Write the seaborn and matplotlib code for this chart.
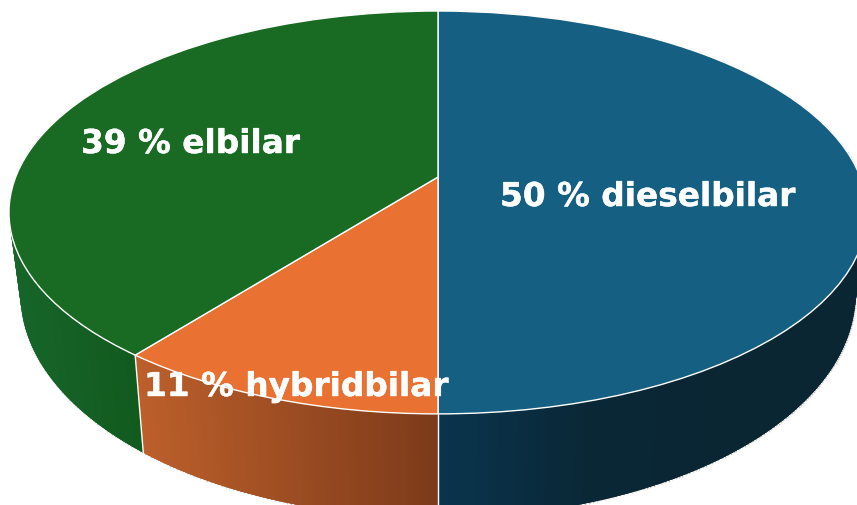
import numpy as np
import seaborn as sns
import matplotlib
matplotlib.use('Agg')
import matplotlib.pyplot as plt
import matplotlib.patheffects as pe
from matplotlib.transforms import Transform

# shares (the labels are rounded)
categories = ['dieselbilar', 'hybridbilar', 'elbilar']
shares = [50, 10.6, 39.4]
labels = ['50 % dieselbilar', '11 % hybridbilar', '39 % elbilar']

top_colors = ['#156082', '#E97132', '#196B24']
wall_colors = [['#0A344C', '#0A2736', '#0A2633', '#0A2633'],
               ['#BC5F2B', '#7C3A19'],
               ['#17652A', '#125A1E']]
label_pos = [(500, 207), (144, 397), (81, 154)]


class Tilt(Transform):
    # perspective view of the unit circle, result is in pixels
    input_dims = 2
    output_dims = 2

    def __init__(self, a, b, k, cx, cy):
        super().__init__()
        self.a, self.b, self.k, self.cx, self.cy = a, b, k, cx, cy

    def transform_non_affine(self, values):
        values = np.asarray(values, dtype=float)
        u, v = values[:, 0], values[:, 1]
        w = 1 + self.k * v
        return np.column_stack((self.cx + self.a * u / w, self.cy - self.b * v / w))


def rim(tilt, theta):
    rad = np.deg2rad(theta)
    return tilt.transform_non_affine(np.column_stack((np.cos(rad), np.sin(rad))))


sns.set_theme(style='white')
fig = plt.figure(figsize=(8.57, 5.06), dpi=100)
ax = fig.add_axes([0, 0, 1, 1])

wedges, _ = ax.pie(shares, colors=sns.color_palette(top_colors), startangle=90, counterclock=False,
                   wedgeprops=dict(edgecolor='white', linewidth=1.0, zorder=3))

top = Tilt(422.3, 195.2, 0.176, 438, 178)
bottom = Tilt(411, 216.6, 0.176, 438, 256)

for wedge in wedges:
    wedge.set_transform(top + ax.transData)

# side walls, thin strips for the gradient
for wedge, wall in zip(wedges, wall_colors):
    theta = np.linspace(wedge.theta1, wedge.theta2, 160)
    upper, lower = rim(top, theta), rim(bottom, theta)
    keep = np.sin(np.deg2rad(theta)) < 0.25
    upper, lower = upper[keep], lower[keep]
    if len(upper) < 2:
        continue
    pal = sns.blend_palette(wall, 64)
    xs = upper[:, 0]
    # each strip overlaps the next ones so no seams show
    for i in range(len(xs) - 1):
        j = min(i + 3, len(xs) - 1)
        frac = (xs[i] - xs.min()) / (xs.max() - xs.min())
        color = pal[int(frac * 63)]
        ax.fill([upper[i, 0], upper[j, 0], lower[j, 0], lower[i, 0]],
                [upper[i, 1], upper[j, 1], lower[j, 1], lower[i, 1]],
                color=color, lw=0, zorder=1)

# thin grey outline around the outside
theta = np.linspace(-270, 90, 720)
back = np.sin(np.deg2rad(theta)) > -0.12
outline = rim(top, theta)
ax.scatter(outline[back, 0], outline[back, 1], s=1.2, color='#C4CAD0', lw=0, zorder=2)
outline = rim(bottom, theta)
front = np.sin(np.deg2rad(theta)) < 0.1
ax.scatter(outline[front, 0], outline[front, 1], s=1.5, color='#C4C4C4', lw=0, zorder=0.5)

# white seams on the wall
for wedge in wedges[:2]:
    seam = np.array([wedge.theta1])
    a, b = rim(top, seam)[0], rim(bottom, seam)[0]
    ax.plot([a[0], b[0]], [a[1], b[1]], color='white', lw=1.0, zorder=2)

for text, (x, y) in zip(labels, label_pos):
    ax.text(x, y, text, color='white', fontsize=23.6, fontweight='bold', family='DejaVu Sans',
            ha='left', va='baseline', zorder=5,
            path_effects=[pe.withStroke(linewidth=0.3, foreground='white')])

ax.set_aspect('auto')
ax.set_xlim(0, 857)
ax.set_ylim(506, 0)
ax.axis('off')

fig.savefig('out.png', dpi=100, facecolor='white')
